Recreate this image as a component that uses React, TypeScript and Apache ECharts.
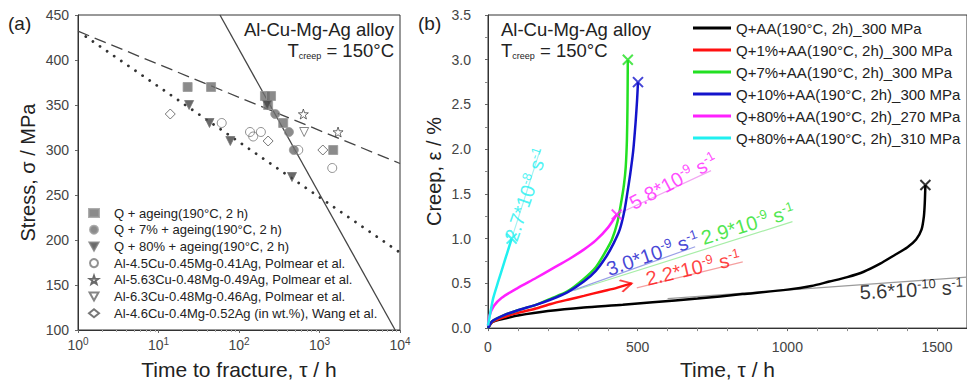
import React, { useEffect, useRef } from 'react';
import * as echarts from 'echarts';

const FONT = '"Liberation Sans", Arial, sans-serif';

// ---------- Panel (a): stress vs time to fracture ----------
const agedQ: [number, number][] = [[23, 370], [45, 370], [210, 360], [250, 360], [230, 350], [354, 330], [1480, 300]];
const aged7: [number, number][] = [[282, 340], [417, 320], [480, 300]];
const aged80: [number, number][] = [[24, 350], [43, 330], [78, 310], [224, 350], [455, 270]];
const polmear45: [number, number][] = [[61, 330], [137, 320], [150, 315], [187, 320], [545, 300], [1440, 280]];
const polmear563: [number, number][] = [[630, 340], [1700, 320]];
const polmear63: [number, number][] = [[645, 320]];
const wang46: [number, number][] = [[14, 340], [230, 310], [1100, 300]];
const dashedFit: [number, number][] = [[1, 432], [10000, 285]];
const dottedFit: [number, number][] = [[1.25, 426], [10000, 186]];
const solidFit: [number, number][] = [[58, 450], [8700, 100]];

const legendA = [
  'Q + ageing(190°C, 2 h)',
  'Q + 7% + ageing(190°C, 2 h)',
  'Q + 80% + ageing(190°C, 2 h)',
  'Al-4.5Cu-0.45Mg-0.41Ag, Polmear et al.',
  'Al-5.63Cu-0.48Mg-0.49Ag, Polmear et al.',
  'Al-6.3Cu-0.48Mg-0.46Ag, Polmear et al.',
  'Al-4.6Cu-0.4Mg-0.52Ag (in wt.%), Wang et al.',
];

// ---------- Panel (b): creep curves ----------
const curveNames = [
  'Q+AA(190°C, 2h)_300 MPa',
  'Q+1%+AA(190°C, 2h)_300 MPa',
  'Q+7%+AA(190°C, 2h)_300 MPa',
  'Q+10%+AA(190°C, 2h)_300 MPa',
  'Q+80%+AA(190°C, 2h)_270 MPa',
  'Q+80%+AA(190°C, 2h)_310 MPa',
];
const curveColors = ['#000000', '#ff1010', '#22e022', '#1414cc', '#ff20ff', '#20f0f0'];
const tangentColors = ['#9a9a9a', '#f5a0a0', '#a8eea8', '#9aa0e6', '#f2a6f2', '#a6f2f2'];

const curve0: [number, number][] = [[0, 0], [15, 0.07], [60, 0.11], [100, 0.14], [200, 0.19], [320, 0.23], [450, 0.26], [550, 0.29], [700, 0.33], [850, 0.38], [1000, 0.43], [1080, 0.47], [1140, 0.52], [1200, 0.57], [1255, 0.63], [1310, 0.72], [1360, 0.82], [1400, 0.9], [1430, 0.99], [1448, 1.1], [1456, 1.25], [1459, 1.4], [1461, 1.6]];
const curve1: [number, number][] = [[0, 0], [15, 0.07], [60, 0.13], [100, 0.17], [160, 0.22], [210, 0.27], [270, 0.32], [320, 0.36], [380, 0.41], [430, 0.45], [480, 0.5]];
const curve7: [number, number][] = [[0, 0], [15, 0.08], [50, 0.14], [100, 0.2], [160, 0.26], [210, 0.33], [265, 0.41], [320, 0.55], [360, 0.68], [390, 0.84], [414, 0.99], [432, 1.18], [444, 1.39], [454, 1.6], [460, 1.8], [464, 2.1], [466, 2.5], [467, 3.0]];
const curve10: [number, number][] = [[0, 0], [15, 0.08], [50, 0.14], [100, 0.2], [160, 0.26], [210, 0.32], [265, 0.4], [320, 0.52], [360, 0.64], [395, 0.8], [420, 0.95], [440, 1.1], [455, 1.3], [465, 1.5], [475, 1.72], [485, 1.98], [493, 2.3], [498, 2.55], [501, 2.75]];
const curve80a: [number, number][] = [[0, 0.03], [5, 0.14], [20, 0.25], [46, 0.34], [100, 0.45], [160, 0.56], [212, 0.66], [270, 0.77], [321, 0.88], [360, 0.98], [400, 1.12], [430, 1.27]];
const curve80b: [number, number][] = [[0, 0.03], [5, 0.12], [17, 0.33], [35, 0.53], [50, 0.69], [65, 0.85], [79, 1.0]];
const curves = [curve0, curve1, curve7, curve10, curve80a, curve80b];

const tangent0: [number, number][] = [[600, 0.33], [1600, 0.57]];
const tangent1: [number, number][] = [[497, 0.45], [851, 0.74]];
const tangent7: [number, number][] = [[288, 0.42], [1017, 1.19]];
const tangent10: [number, number][] = [[265, 0.4], [692, 0.91]];
const tangent80a: [number, number][] = [[430, 1.27], [745, 1.76]];
const tangent80b: [number, number][] = [[79, 1.0], [175, 2.0]];
const tangents = [tangent0, tangent1, tangent7, tangent10, tangent80a, tangent80b];

// fracture marks (x) at ends of curves: black, green, blue, magenta, cyan
const fractureIdx = [0, 2, 3, 4, 5];

// rate annotations: [t, eps, mantissa, exponent, rotation]
const rateLabels: [number, number, string, string, number][] = [
  [1414, 0.43, '5.6*10', '-10', 3],
  [685, 0.67, '2.2*10', '-9', 13],
  [868, 1.16, '2.9*10', '-9', 17],
  [550, 0.83, '3.0*10', '-9', 19],
  [619, 1.64, '5.8*10', '-9', 28],
  [127, 1.49, '2.7*10', '-8', 71],
];
const rateColorIdx = [0, 1, 2, 3, 4, 5];

const STAR = 'path://M5,0 L6.2,3.6 L10,3.7 L7,6 L8.1,9.6 L5,7.5 L1.9,9.6 L3,6 L0,3.7 L3.8,3.6 Z';
const DOWNTRI = 'path://M0,0L10,0L5,9Z';
const XMARK = 'path://M0,0L10,10M10,0L0,10';
const ARROW = 'path://M0,0L10,5L0,10M20,5L20,5';

export default function App() {
  const ref = useRef<HTMLDivElement>(null);
  useEffect(() => {
    if (!ref.current) return;
    const chart = echarts.init(ref.current, undefined, { renderer: 'svg' });

    const supRich = (color: string, size = 10, lift = 8) => ({
      sup: { fontSize: size, padding: [0, 0, lift, 0], color, fontFamily: FONT },
    });

    const scatterA = (name: string, data: [number, number][], symbol: string, style: any, size = 9) => ({
      name, type: 'scatter', xAxisIndex: 0, yAxisIndex: 0, data, symbol, symbolSize: size,
      itemStyle: style, z: 5,
    });
    const fitLine = (data: [number, number][], lineStyle: any) => ({
      type: 'line', xAxisIndex: 0, yAxisIndex: 0, data, symbol: 'none', silent: true, lineStyle, z: 3,
    });

    const series: any[] = [
      fitLine(dashedFit, { color: '#444', width: 1.3, type: [12, 6] }),
      fitLine(dottedFit, { color: '#333', width: 2.8, type: [0.01, 8.6], cap: 'round' }),
      fitLine(solidFit, { color: '#444', width: 1.3 }),
      scatterA(legendA[0], agedQ, 'rect', { color: '#6e6e6e', borderColor: '#999', borderWidth: 1 }),
      scatterA(legendA[1], aged7, 'circle', { color: '#6e6e6e', borderColor: '#999', borderWidth: 1 }),
      scatterA(legendA[2], aged80, DOWNTRI, { color: '#444', borderColor: '#777', borderWidth: 1 }),
      scatterA(legendA[3], polmear45, 'circle', { color: 'rgba(255,255,255,0)', borderColor: '#777', borderWidth: 1 }),
      scatterA(legendA[4], polmear563, STAR, { color: 'rgba(255,255,255,0)', borderColor: '#444', borderWidth: 1 }, 10),
      scatterA(legendA[5], polmear63, DOWNTRI, { color: 'rgba(255,255,255,0)', borderColor: '#666', borderWidth: 1 }),
      scatterA(legendA[6], wang46, 'diamond', { color: 'rgba(255,255,255,0)', borderColor: '#555', borderWidth: 1 }, 10),
    ];

    tangents.forEach((d, i) => {
      series.push({
        type: 'line', xAxisIndex: 1, yAxisIndex: 1, data: d, symbol: 'none', silent: true,
        lineStyle: { color: tangentColors[i], width: 1.2 }, z: 2,
      });
    });
    curves.forEach((d, i) => {
      series.push({
        name: curveNames[i], type: 'line', xAxisIndex: 1, yAxisIndex: 1, data: d, symbol: 'none',
        smooth: 0.25, lineStyle: { color: curveColors[i], width: 2.5 },
        itemStyle: { color: curveColors[i] }, z: 4,
      });
    });
    series.push({
      type: 'scatter', xAxisIndex: 1, yAxisIndex: 1, silent: true, z: 6,
      data: fractureIdx.map((ci) => {
        const c = curves[ci];
        return {
          value: c[c.length - 1], symbol: XMARK, symbolSize: 10,
          itemStyle: { color: 'rgba(0,0,0,0)', borderColor: curveColors[ci], borderWidth: 2 },
        };
      }),
    });
    series.push({
      type: 'scatter', xAxisIndex: 1, yAxisIndex: 1, silent: true, z: 6,
      data: [{
        value: curve1[curve1.length - 1], symbol: ARROW, symbolSize: [22, 12], symbolRotate: 14,
        itemStyle: { color: 'rgba(0,0,0,0)', borderColor: curveColors[1], borderWidth: 2 },
      }],
    });
    series.push({
      type: 'scatter', xAxisIndex: 1, yAxisIndex: 1, silent: true, z: 7,
      symbolSize: 0.01, itemStyle: { color: 'rgba(0,0,0,0)' },
      data: rateLabels.map((r, i) => {
        const col = curveColors[rateColorIdx[i]];
        return {
          value: [r[0], r[1]],
          label: {
            show: true, position: 'inside', rotate: r[4], color: col, fontSize: 20, fontFamily: FONT,
            formatter: `${r[2]}{sup|${r[3]}} s{sup|-1}`,
            rich: supRich(col, 13, 10),
          },
        };
      }),
    });

    const option: any = {
      animation: false,
      textStyle: { fontFamily: FONT },
      grid: [
        { left: 78, top: 15, width: 322, height: 318, show: true, borderColor: '#333', borderWidth: 1 },
        { left: 488, top: 15, right: -4, height: 318, show: true, borderColor: '#333', borderWidth: 1 },
      ],
      xAxis: [
        {
          type: 'log', gridIndex: 0, logBase: 10, min: 1, max: 10000,
          axisLine: { lineStyle: { color: '#333' } },
          axisTick: { length: 3, lineStyle: { color: '#666' } },
          minorTick: { show: true, splitNumber: 9, length: 2, lineStyle: { color: '#aaa' } },
          splitLine: { show: false }, minorSplitLine: { show: false },
          axisLabel: {
            fontSize: 14, color: '#444', margin: 6, fontFamily: FONT,
            formatter: (v: number) => `10{sup|${Math.round(Math.log10(v))}}`,
            rich: supRich('#444', 10, 8),
          },
          name: 'Time to fracture, τ / h', nameLocation: 'middle', nameGap: 29,
          nameTextStyle: { fontSize: 21, color: '#222', fontFamily: FONT },
        },
        {
          type: 'value', gridIndex: 1, min: 0, max: 1600, interval: 500,
          axisLine: { lineStyle: { color: '#333' } },
          axisTick: { length: 3, lineStyle: { color: '#666' } },
          minorTick: { show: true, splitNumber: 5, length: 3, lineStyle: { color: '#888' } },
          splitLine: { show: false },
          axisLabel: { fontSize: 14, color: '#444', margin: 12, showMaxLabel: false, fontFamily: FONT, formatter: (v: number) => String(v) },
          name: 'Time, τ / h', nameLocation: 'middle', nameGap: 29,
          nameTextStyle: { fontSize: 21, color: '#222', fontFamily: FONT },
        },
      ],
      yAxis: [
        {
          type: 'value', gridIndex: 0, min: 100, max: 450, interval: 50,
          axisLine: { show: true, lineStyle: { color: '#333' } },
          axisTick: { show: true, length: 3, lineStyle: { color: '#666' } },
          splitLine: { show: false },
          axisLabel: { fontSize: 14, color: '#444', margin: 9, fontFamily: FONT },
          name: 'Stress, σ / MPa', nameLocation: 'middle', nameGap: 40, nameRotate: 90,
          nameTextStyle: { fontSize: 20, color: '#222', fontFamily: FONT },
        },
        {
          type: 'value', gridIndex: 1, min: 0, max: 3.5, interval: 0.5,
          axisLine: { show: true, lineStyle: { color: '#333' } },
          axisTick: { show: true, length: 3, lineStyle: { color: '#666' } },
          minorTick: { show: true, splitNumber: 2, length: 3, lineStyle: { color: '#888' } },
          splitLine: { show: false },
          axisLabel: { fontSize: 14, color: '#444', margin: 17, fontFamily: FONT, formatter: (v: number) => v.toFixed(1) },
          name: 'Creep, ε / %', nameLocation: 'middle', nameGap: 44, nameRotate: 90,
          nameTextStyle: { fontSize: 20, color: '#222', fontFamily: FONT },
        },
      ],
      legend: [
        {
          data: legendA, orient: 'vertical', left: 88, top: 206, padding: 0, itemWidth: 10, itemHeight: 8, itemGap: 2.7,
          selectedMode: false,
          textStyle: { fontSize: 13, lineHeight: 14, color: '#222', fontFamily: FONT, padding: [0, 0, 0, 10] },
        },
        {
          data: curveNames.map((n) => ({ name: n, icon: 'rect' })), orient: 'vertical', left: 693, top: 19, padding: 0,
          itemWidth: 38, itemHeight: 3, itemGap: 4,
          selectedMode: false,
          textStyle: { fontSize: 15, lineHeight: 18, color: '#222', fontFamily: FONT },
        },
      ],
      graphic: [
        { type: 'text', x: 8, y: 14, style: { text: '(a)', fontSize: 19, fontFamily: FONT, fill: '#222' } },
        { type: 'text', x: 418, y: 14, style: { text: '(b)', fontSize: 19, fontFamily: FONT, fill: '#222' } },
        { type: 'text', x: 394, y: 29, style: { text: 'Al-Cu-Mg-Ag alloy', fontSize: 18.5, fontFamily: FONT, fill: '#222', align: 'right', verticalAlign: 'middle' } },
        {
          type: 'text', x: 394, y: 50, style: {
            text: 'T{sub|creep} = 150°C', fontSize: 18.5, fontFamily: FONT, fill: '#222', align: 'right', verticalAlign: 'middle',
            rich: { sub: { fontSize: 9, padding: [12, 0, 0, 0], fill: '#222', fontFamily: FONT } },
          },
        },
        { type: 'text', x: 501, y: 29, style: { text: 'Al-Cu-Mg-Ag alloy', fontSize: 18.5, fontFamily: FONT, fill: '#222', align: 'left', verticalAlign: 'middle' } },
        {
          type: 'text', x: 501, y: 50, style: {
            text: 'T{sub|creep} = 150°C', fontSize: 18.5, fontFamily: FONT, fill: '#222', align: 'left', verticalAlign: 'middle',
            rich: { sub: { fontSize: 9, padding: [12, 0, 0, 0], fill: '#222', fontFamily: FONT } },
          },
        },
      ],
      series,
    };
    chart.setOption(option);
    return () => chart.dispose();
  }, []);
  return <div ref={ref} style={{ position: 'absolute', left: 0, top: 0, width: 967, height: 385, background: '#fff' }} />;
}
